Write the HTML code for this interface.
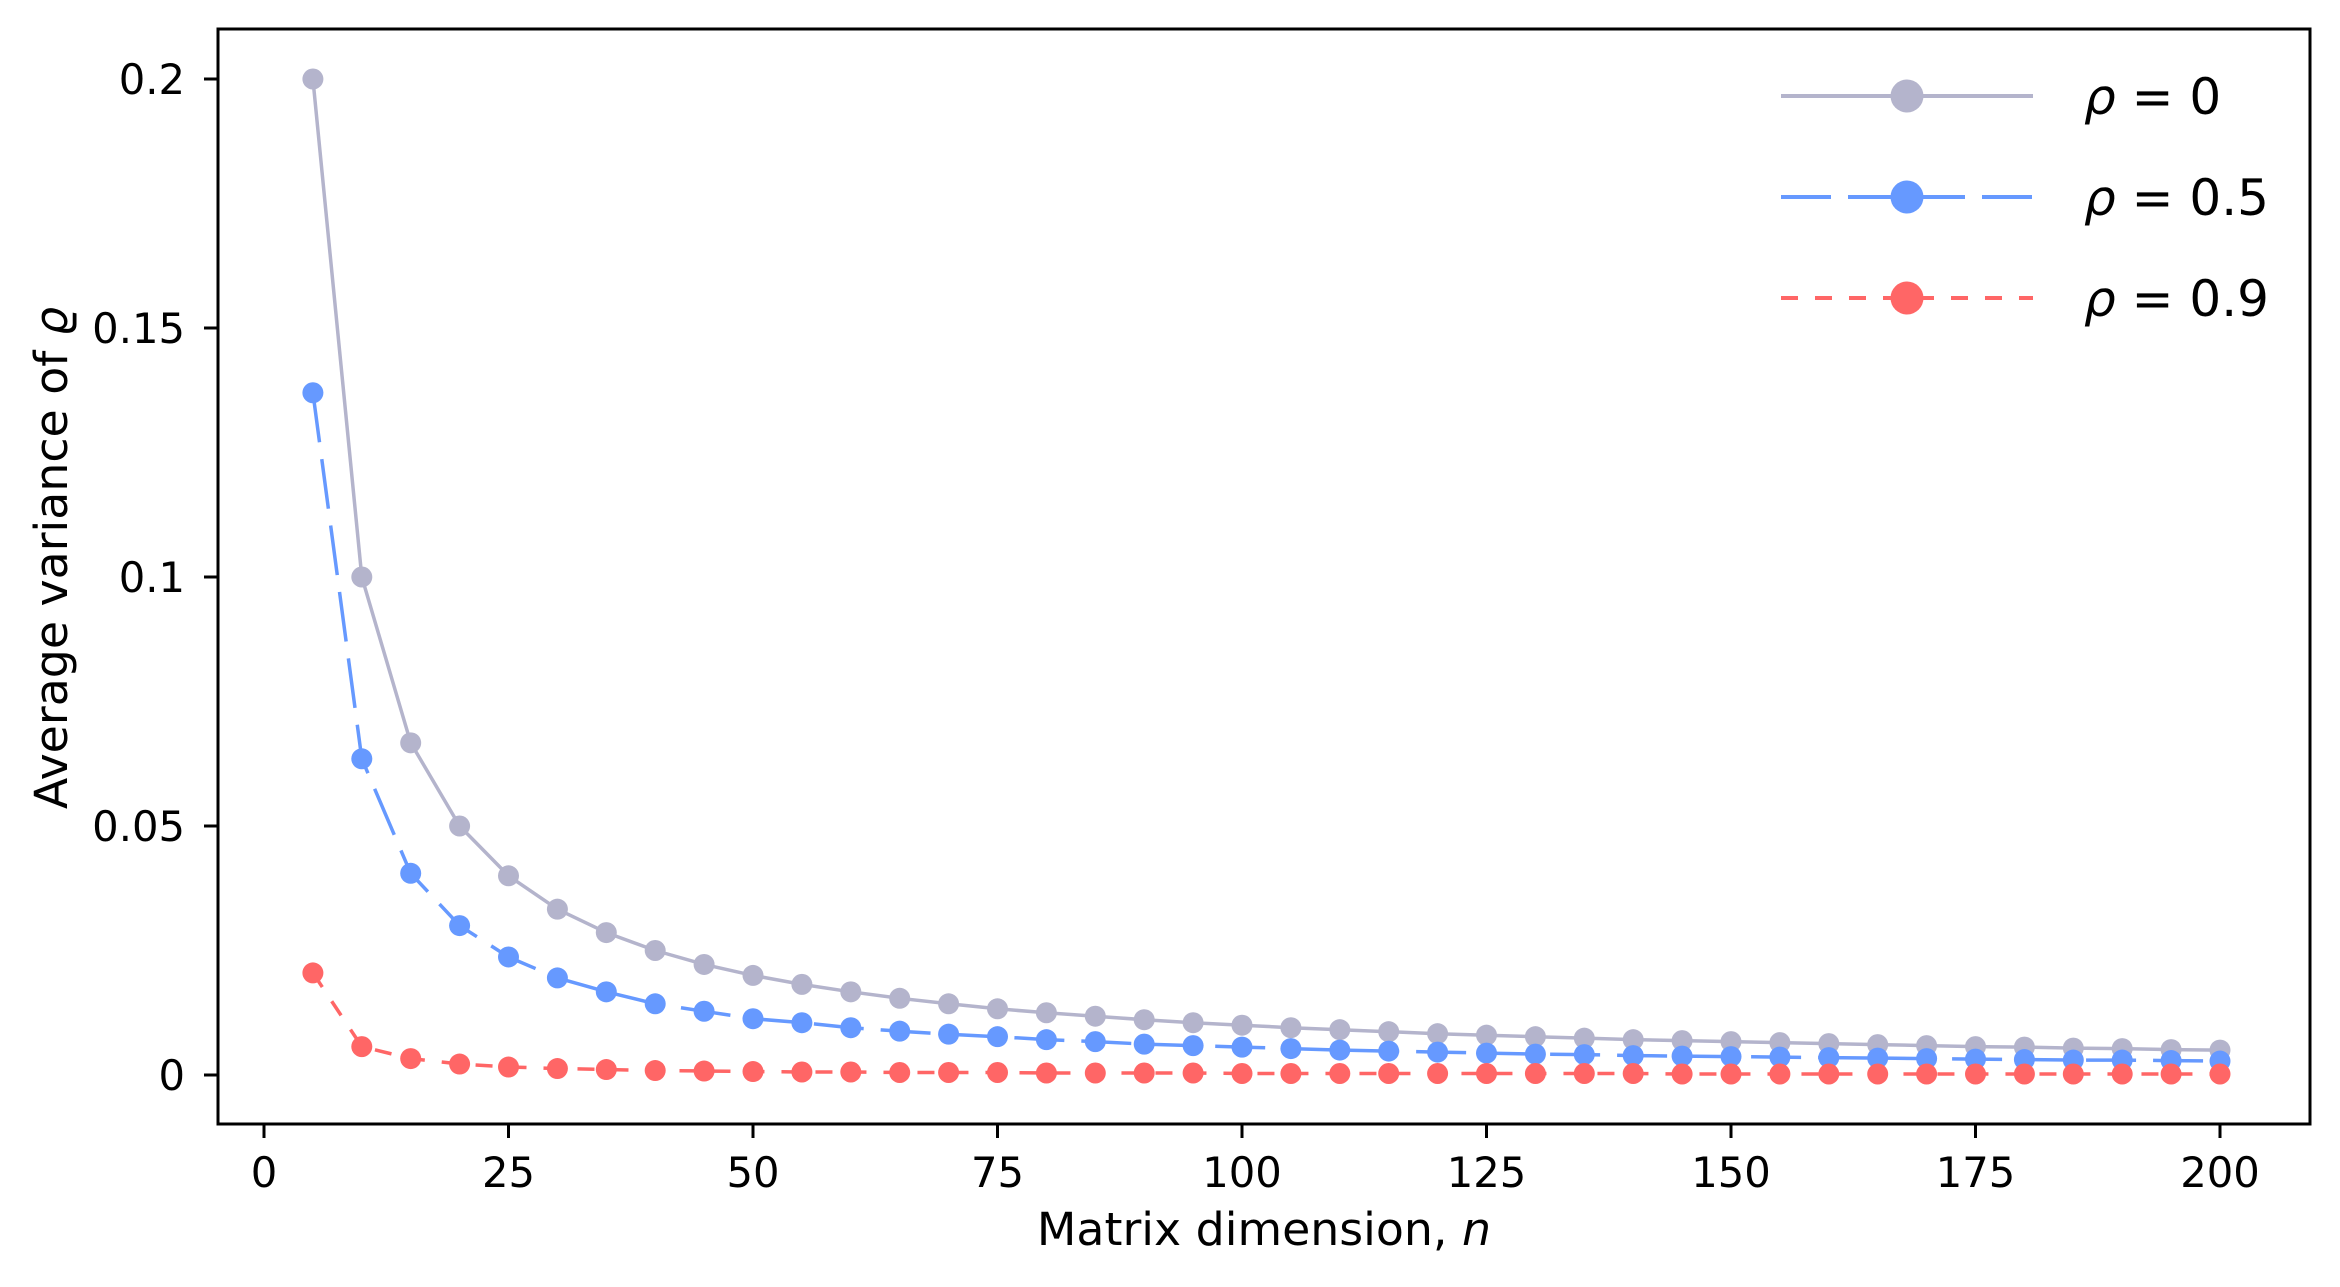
<!DOCTYPE html>
<html><head><meta charset="utf-8"><style>
html,body{margin:0;padding:0;background:#fff}
svg{display:block}
text{font-family:"DejaVu Sans","Liberation Sans",sans-serif;fill:#000}
</style></head><body>
<svg id="chart" width="2340" height="1287" viewBox="0 0 2340 1287" xmlns="http://www.w3.org/2000/svg">
<g id="plot"></g>
<g id="axes"></g>
<g id="legend"></g>
</svg>
<script>
const nValues = [5,10,15,20,25,30,35,40,45,50,55,60,65,70,75,80,85,90,95,100,105,110,115,120,125,130,135,140,145,150,155,160,165,170,175,180,185,190,195,200];
const rho0 = [0.2,0.1,0.0667,0.05,0.04,0.0333,0.0286,0.025,0.0222,0.02,0.0182,0.0167,0.0154,0.0143,0.0133,0.0125,0.0118,0.0111,0.0105,0.01,0.0095,0.0091,0.0087,0.0083,0.008,0.0077,0.0074,0.0071,0.0069,0.0067,0.0065,0.0063,0.0061,0.0059,0.0057,0.0056,0.0054,0.0053,0.0051,0.005];
const rho05 = [0.137,0.0635,0.0405,0.030,0.0237,0.0195,0.0167,0.0143,0.0128,0.0113,0.0105,0.0095,0.0088,0.0082,0.0077,0.0071,0.0067,0.0062,0.0059,0.0056,0.0053,0.005,0.0048,0.0046,0.0044,0.0042,0.0041,0.0039,0.0038,0.0037,0.0036,0.0035,0.0034,0.0033,0.0032,0.0031,0.003,0.003,0.0029,0.0028];
const rho09 = [0.0205,0.0057,0.0033,0.0022,0.0016,0.0013,0.0011,0.0009,0.0008,0.0007,0.0006,0.0006,0.0005,0.0005,0.0005,0.0004,0.0004,0.0004,0.0004,0.0003,0.0003,0.0003,0.0003,0.0003,0.0003,0.0003,0.0003,0.0003,0.0002,0.0002,0.0002,0.0002,0.0002,0.0002,0.0002,0.0002,0.0002,0.0002,0.0002,0.0002];
const xTicks = [0,25,50,75,100,125,150,175,200];
const yTicks = [0,0.05,0.1,0.15,0.2];
const yTickLabels = ["0","0.05","0.1","0.15","0.2"];
const seriesLabels = ["0","0.5","0.9"];

const NS='http://www.w3.org/2000/svg';
const L=218,R=2310,T=29,B=1124;
function sx(v){return 264+(v-0)*(2220-264)/200;}
function sy(v){return 1075-v*4980;}
function mk(tag,attrs,parent){const e=document.createElementNS(NS,tag);for(const k in attrs)e.setAttribute(k,attrs[k]);parent.appendChild(e);return e;}
const plot=document.getElementById('plot'),axes=document.getElementById('axes'),legend=document.getElementById('legend');
const series=[
 {vals:rho0,color:'#b4b4cc',dash:'',name:'rho-0'},
 {vals:rho05,color:'#6699ff',dash:'50 17',name:'rho-0.5'},
 {vals:rho09,color:'#ff6666',dash:'17 17',name:'rho-0.9'}];
series.forEach(s=>{
  const g=mk('g',{},plot);
  
  
  const pts=s.vals.map((v,i)=>sx(nValues[i]).toFixed(1)+','+sy(v).toFixed(1)).join(' ');
  const pl=mk('polyline',{points:pts,fill:'none',stroke:s.color,'stroke-width':3.5,'stroke-dasharray':s.dash,'stroke-linejoin':'round'},g);
  
  
  s.vals.forEach((v,i)=>{
    const c=mk('circle',{cx:sx(nValues[i]),cy:sy(v),r:10.5,fill:s.color},g);
    
    
  });
});
const frame=mk('rect',{x:L,y:T,width:R-L,height:B-T,fill:'none',stroke:'#000','stroke-width':3},axes);


xTicks.forEach(t=>{
  const x=sx(t);
  const ln=mk('line',{x1:x,y1:B,x2:x,y2:B+14,stroke:'#000','stroke-width':3},axes);
  
  
  const tx=mk('text',{x:x,y:1187,'text-anchor':'middle','font-size':41.7},axes);
  tx.textContent=String(t);
  
  
});
yTicks.forEach((t,i)=>{
  const y=sy(t);
  const ln=mk('line',{x1:L-14,y1:y,x2:L,y2:y,stroke:'#000','stroke-width':3},axes);
  
  
  const tx=mk('text',{x:185,y:y+15,'text-anchor':'end','font-size':41.7},axes);
  tx.textContent=yTickLabels[i];
  
  
});
const xl=mk('text',{x:1264,y:1245,'text-anchor':'middle','font-size':45.8},axes);
xl.innerHTML='Matrix dimension, <tspan font-style="italic">n</tspan>';


const yl=mk('text',{x:0,y:0,'text-anchor':'middle','font-size':45.8,transform:'translate(67,558) rotate(-90)'},axes);
yl.innerHTML='Average variance of <tspan font-style="italic">ϱ</tspan>';


const rows=[96,197,298];
series.forEach((s,i)=>{
  const g=mk('g',{},legend);
  
  
  mk('line',{x1:1781,y1:rows[i],x2:2033,y2:rows[i],stroke:s.color,'stroke-width':4,'stroke-dasharray':s.dash},g);
  mk('circle',{cx:1907,cy:rows[i],r:16.5,fill:s.color},g);
  const tx=mk('text',{x:2084,y:rows[i]+18,'font-size':50},g);
  tx.innerHTML='<tspan font-style="italic">ρ</tspan> = '+seriesLabels[i];
});
</script>
</body></html>
